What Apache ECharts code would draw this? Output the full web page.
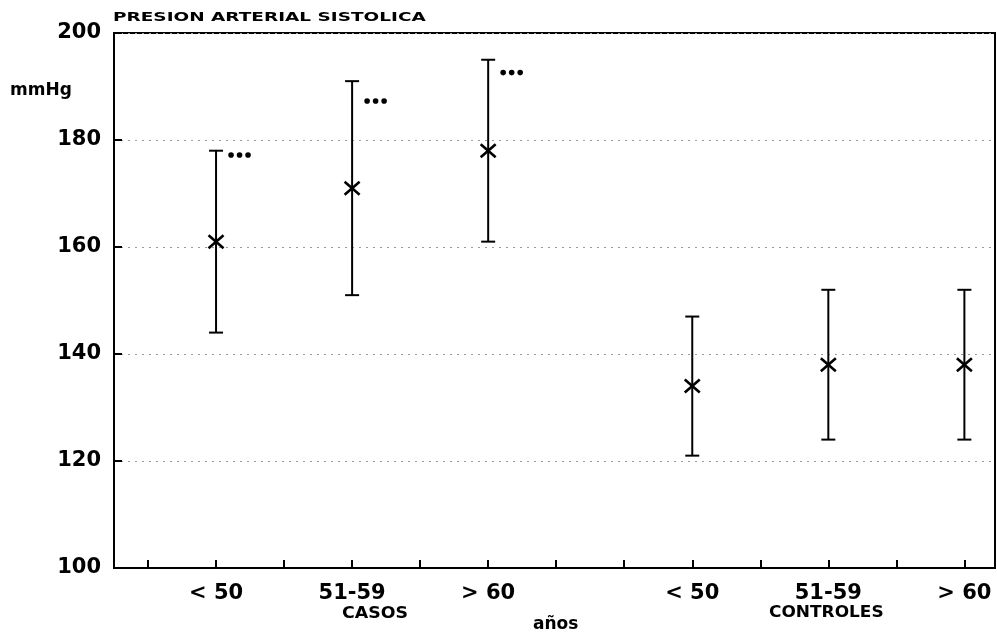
<!DOCTYPE html>
<html lang="es">
<head>
  <meta charset="UTF-8">
  <title>presion arterial sistolica</title>
  <style>
    * { padding: 0; margin: 0; }
    body { background: #fff; }
    #charts { width: 997px; height: 634px; }
  </style>
</head>
<body>
  <div id="charts"></div>
  <script src="https://cdn.jsdelivr.net/npm/echarts@6/dist/echarts.min.js"></script>
  <script type="text/javascript">
    // posiciones en el eje x (marcas 1..13), etiquetas de edad
    var tickVals = [1, 2, 3, 4, 5, 6, 7, 8, 9, 10, 11, 12, 13]
    var groupPos = [2, 4, 6, 9, 11, 13]
    var ageLabels = ['< 50', '51-59', '> 60', '< 50', '51-59', '> 60']
    // mmHg: media, limite inferior, limite superior
    var meanVals = [161, 171, 178, 134, 138, 138]
    var lowVals = [144, 151, 161, 121, 124, 124]
    var highVals = [178, 191, 195, 147, 152, 152]
    // *** en los casos
    var starPos = [2, 4, 6]
    var starVals = [177.2, 187.3, 192.6]
    var yTicks = [100, 120, 140, 160, 180, 200]

    var fontFam = 'DejaVu Sans'
    var myChart = echarts.init(document.getElementById('charts'))

    var barData = groupPos.map(function (x, i) {
      return [x, lowVals[i], meanVals[i], highVals[i]]
    })
    var starData = starPos.map(function (x, i) { return [x, starVals[i]] })

    function renderBar(params, api) {
      var lo = api.coord([api.value(0), api.value(1)])
      var mid = api.coord([api.value(0), api.value(2)])
      var hi = api.coord([api.value(0), api.value(3)])
      var st = { stroke: '#000', lineWidth: 2 }
      var stX = { stroke: '#000', lineWidth: 2.6 }
      var cap = 7, xs = 7.5, ys = 6.5
      return {
        type: 'group',
        children: [
          { type: 'line', shape: { x1: lo[0], y1: lo[1], x2: hi[0], y2: hi[1] }, style: st },
          { type: 'line', shape: { x1: lo[0] - cap, y1: lo[1], x2: lo[0] + cap, y2: lo[1] }, style: st },
          { type: 'line', shape: { x1: hi[0] - cap, y1: hi[1], x2: hi[0] + cap, y2: hi[1] }, style: st },
          { type: 'line', shape: { x1: mid[0] - xs, y1: mid[1] - ys, x2: mid[0] + xs, y2: mid[1] + ys }, style: stX },
          { type: 'line', shape: { x1: mid[0] - xs, y1: mid[1] + ys, x2: mid[0] + xs, y2: mid[1] - ys }, style: stX }
        ]
      }
    }

    function renderStars(params, api) {
      var p = api.coord([api.value(0), api.value(1)])
      var dots = []
      for (var i = 0; i < 3; i++) {
        dots.push({ type: 'circle', shape: { cx: p[0] + 15 + i * 8.5, cy: p[1], r: 2.8 }, style: { fill: '#000' } })
      }
      return { type: 'group', children: dots }
    }

    var option = {
      animation: false,
      textStyle: { fontFamily: fontFam },
      grid: {
        left: 114, right: 2, top: 33, bottom: 66,
        show: true, borderColor: '#000', borderWidth: 2
      },
      xAxis: {
        type: 'value',
        min: 0.5,
        max: 13.45,
        axisLine: { lineStyle: { color: '#000', width: 2 } },
        axisTick: { inside: true, length: 8, customValues: tickVals, lineStyle: { color: '#000', width: 2 } },
        axisLabel: {
          customValues: groupPos,
          margin: 15,
          color: '#000',
          fontSize: 21,
          fontWeight: 'bold',
          fontFamily: fontFam,
          formatter: function (v) {
            var i = groupPos.indexOf(v)
            return i >= 0 ? ageLabels[i] : ''
          }
        },
        splitLine: { show: false }
      },
      yAxis: {
        type: 'value',
        min: 100,
        max: 200,
        interval: 20,
        axisLine: { show: true, lineStyle: { color: '#000', width: 2 } },
        axisTick: { show: true, inside: true, length: 8, lineStyle: { color: '#000', width: 2 } },
        axisLabel: {
          margin: 13,
          color: '#000',
          fontSize: 21,
          fontWeight: 'bold',
          fontFamily: fontFam,
          formatter: function (v) { return yTicks.indexOf(v) >= 0 ? String(v) : '' }
        },
        splitLine: { show: true, lineStyle: { color: '#9a9a9a', width: 1, type: [2, 5] } }
      },
      graphic: [
        { type: 'text', left: 113, top: 11, scaleX: 1.42, style: { text: 'PRESION ARTERIAL SISTOLICA', font: 'bold 13px "DejaVu Sans"', fill: '#000' } },
        { type: 'text', left: 10, top: 82, style: { text: 'mmHg', font: 'bold 17px "DejaVu Sans"', fill: '#000' } },
        { type: 'text', left: 342, top: 607, scaleX: 1.16, style: { text: 'CASOS', font: 'bold 15px "DejaVu Sans"', fill: '#000' } },
        { type: 'text', left: 769, top: 606, scaleX: 1.13, style: { text: 'CONTROLES', font: 'bold 15px "DejaVu Sans"', fill: '#000' } },
        { type: 'text', left: 533, top: 616, style: { text: 'años', font: 'bold 17px "DejaVu Sans"', fill: '#000' } }
      ],
      series: [
        {
          name: 'presion',
          type: 'custom',
          renderItem: renderBar,
          encode: { x: 0, y: [1, 2, 3] },
          data: barData
        },
        {
          name: 'estrellas',
          type: 'custom',
          renderItem: renderStars,
          encode: { x: 0, y: 1 },
          data: starData
        }
      ]
    }
    myChart.setOption(option)
  </script>
</body>
</html>
